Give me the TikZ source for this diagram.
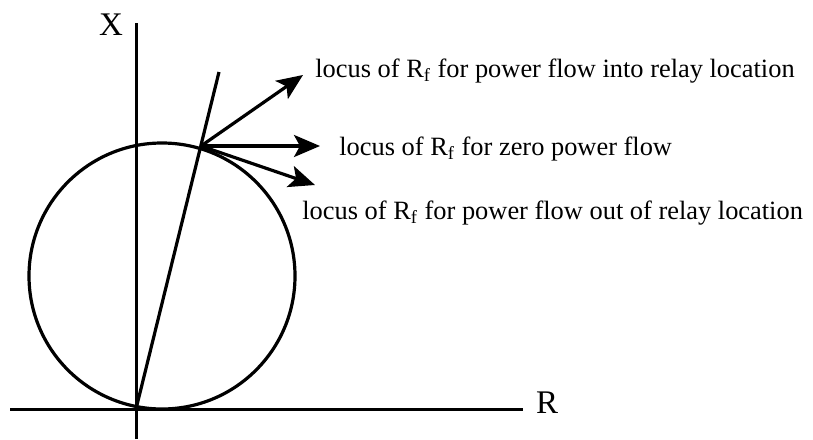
\documentclass[tikz,border=0pt]{standalone}
\usepackage{fontspec}
\setmainfont{Liberation Serif}
\usepackage{tikz}
\usetikzlibrary{positioning, arrows.meta}

\begin{document}
\begin{tikzpicture}[
    x=0.5pt, y=-0.5pt,
    axis/.style={line width=1.5pt},
    curve/.style={line width=1.6pt},
    locus/.style={line width=1.6pt, -{Stealth[length=13pt, width=11pt, inset=3pt]}},
    lbl/.style={inner sep=0pt, anchor=base west, font=\fontsize{13.2}{16}\selectfont},
    axlbl/.style={inner sep=0pt, anchor=base, font=\fontsize{16.5}{20}\selectfont}
]
\useasboundingbox (0,0) rectangle (813,439);

\coordinate (O) at (136,409);
\coordinate (xtop) at (136,23);
\coordinate (xbot) at (136,439);
\coordinate (rleft) at (10,409);
\coordinate (rright) at (523,409);
\coordinate (ltop) at (219,72);
\coordinate (P) at (201,146);
\coordinate (tipin) at (303,75);
\coordinate (tipzero) at (320,146);
\coordinate (tipout) at (315,185);

% axes
\draw[axis] (xbot) -- (xtop);
\draw[axis] (rleft) -- (rright);
\node[axlbl] (xlab) at (111,35) {X};
\node[axlbl] (rlab) at (547,413) {R};

% circle and line through origin
\draw[curve] (162,276) circle[radius=133];
\draw[curve] (O) -- (ltop);

% loci
\draw[locus] (P) -- (tipin);
\draw[locus] (P) -- (tipzero);
\draw[locus] (P) -- (tipout);
\node[lbl] (into) at (315,77) {locus of R\textsubscript{f} for power flow into relay location};
\node[lbl] (zero) at (339,155) {locus of R\textsubscript{f} for zero power flow};
\node[lbl] (out) at (302,219) {locus of R\textsubscript{f} for power flow out of relay location};
\end{tikzpicture}
\end{document}
